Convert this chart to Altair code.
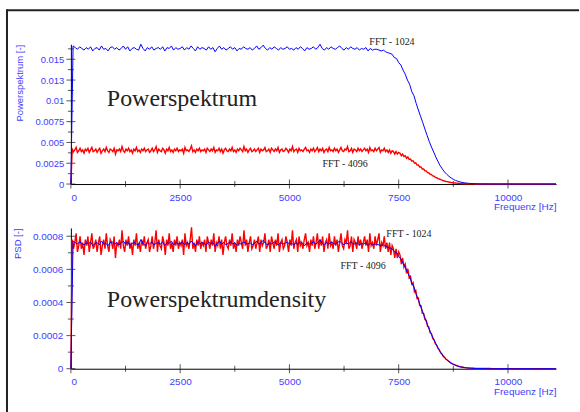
import altair as alt
import pandas as pd

# ---------------- data ----------------
SAMPLE_RATE = 22050          # Hz
N_SHORT = 1024               # FFT length of the blue series
N_LONG = 4096                # FFT length of the red series
STEP_1024 = 50               # Hz between plotted points, FFT-1024
STEP_4096 = 30               # Hz between plotted points, FFT-4096
F_MAX = 11100

# power spectrum, FFT - 1024, in units of 1e-3
power_1024 = [
    0.0,
    16.6, 16.4, 16.2, 16.5, 16.3, 16.1, 16.4, 16.2, 16.5, 16.0,
    16.3, 16.4, 16.1, 16.6, 16.2, 16.3, 16.0, 16.4, 16.5, 16.2,
    16.4, 16.1, 16.3, 16.6, 16.2, 16.5, 16.0, 16.3, 16.4, 16.2,
    16.1, 16.8, 16.3, 16.0, 16.4, 16.2, 16.5, 16.1, 16.3, 16.4,
    16.2, 16.5, 16.0, 16.4, 16.3, 16.6, 16.1, 16.4, 16.2, 16.3,
    16.5, 16.1, 16.4, 16.2, 16.6, 16.3, 16.0, 16.5, 16.2, 16.4,
    16.3, 16.1, 16.5, 16.2, 16.4, 15.9, 16.3, 16.6, 16.2, 16.4,
    16.1, 16.3, 16.5, 16.2, 16.4, 16.0, 16.3, 16.2, 16.5, 16.3,
    16.2, 16.4, 16.1, 16.3, 16.6, 16.2, 16.4, 16.7, 16.3, 16.1,
    16.4, 16.2, 16.5, 16.3, 16.1, 16.4, 16.2, 16.3, 16.5, 16.2,
    16.3, 16.1, 16.4, 16.2, 16.5, 16.3, 16.0, 16.4, 16.2, 16.3,
    16.5, 16.2, 16.4, 16.8, 16.3, 16.1, 16.4, 16.2, 16.5, 16.3,
    16.2, 16.4, 16.6, 16.3, 16.1, 16.4, 16.2, 16.5, 16.3, 16.2,
    16.4, 16.1, 16.3, 16.2, 16.4, 16.0, 16.3, 16.1, 16.2,
    16.2, 16.1, 16.0, 16.1, 15.9, 15.8, 15.7, 15.6, 15.2, 15.1,
    14.6, 14.3, 13.7, 13.2, 12.5, 12.0, 11.1, 10.6, 9.7, 8.9,
    8.15, 7.4, 6.6, 5.85, 5.1, 4.45, 3.85, 3.25, 2.7, 2.2,
    1.8, 1.45, 1.17, 0.93, 0.73, 0.57, 0.44, 0.34, 0.26, 0.2,
    0.15, 0.115, 0.085, 0.065, 0.05,
    0.038, 0.03, 0.024, 0.019, 0.016, 0.013, 0.011, 0.01, 0.009, 0.008,
    0.007, 0.007, 0.006, 0.006, 0.005, 0.005, 0.005, 0.004, 0.004, 0.004,
    0.004, 0.003, 0.003, 0.003, 0.003, 0.003, 0.002, 0.002, 0.002, 0.002,
    0.002, 0.002, 0.002, 0.002, 0.002, 0.001, 0.001, 0.001,
]

# power spectrum, FFT - 4096, in units of 1e-3
power_4096 = [
    0.0,
    4.2, 3.9, 4.1, 4.4, 3.8, 4.0, 4.3, 3.9, 4.1, 3.7, 4.2, 4.0, 4.3, 3.8, 4.1, 4.4, 3.9, 4.0, 4.2, 3.8,
    4.1, 4.3, 3.7, 4.0, 4.2, 3.9, 4.4, 4.0, 3.8, 4.2, 4.1, 3.9, 4.3, 3.6, 4.1, 4.0, 4.2, 3.9, 4.5, 4.0,
    3.8, 4.2, 4.0, 4.3, 3.9, 4.1, 3.7, 4.2, 4.0, 4.4, 3.9, 4.1, 3.8, 4.2, 4.0, 4.3, 3.9, 4.1, 4.2, 3.8,
    4.0, 4.3, 3.9, 4.1, 4.5, 3.8, 4.2, 4.0, 3.9, 4.3, 4.1, 3.7, 4.2, 4.0, 4.4, 3.9, 4.1, 3.8, 4.2, 4.0,
    4.3, 3.9, 4.1, 4.0, 4.2, 3.7, 4.4, 4.0, 4.1, 3.9, 4.2, 4.6, 3.9, 4.1, 3.8, 4.2, 4.0, 4.3, 3.9, 4.1,
    4.0, 4.2, 3.8, 4.3, 4.1, 3.9, 4.2, 4.0, 4.4, 3.8, 4.1, 4.0, 4.3, 3.9, 4.2, 3.7, 4.1, 4.3, 4.0, 3.9,
    4.2, 4.0, 4.4, 3.9, 4.1, 3.8, 4.2, 4.0, 4.3, 4.1, 3.9, 4.5, 4.0, 4.2, 3.8, 4.1, 4.3, 3.9, 4.0, 4.2,
    3.9, 4.1, 4.3, 3.8, 4.2, 4.0, 4.1, 4.4, 3.9, 4.0, 4.2, 3.8, 4.3, 4.1, 3.9, 4.2, 4.0, 4.4, 3.8, 4.1,
    4.2, 3.9, 4.0, 4.3, 4.1, 3.8, 4.2, 4.0, 4.5, 3.9, 4.1, 4.2, 3.8, 4.3, 4.0, 4.1, 3.9, 4.2, 4.4, 4.0,
    4.1, 3.8, 4.2, 4.0, 4.3, 3.9, 4.1, 4.4, 3.9, 4.2, 4.0, 4.3, 3.8, 4.1, 4.2, 3.9, 4.4, 4.0, 4.1, 3.9,
    4.3, 4.0, 4.2, 3.8, 4.1, 4.4, 4.0, 3.9, 4.2, 4.1, 4.5, 3.9, 4.0, 4.3, 3.8, 4.2, 4.1, 3.9, 4.3, 4.0,
    4.2, 3.9, 4.1, 4.3, 4.0, 4.2, 3.8, 4.4, 4.0, 4.1, 3.9, 4.3, 4.0, 4.2, 4.4, 3.8, 4.1, 4.0, 4.3, 3.9,
    4.1, 3.8, 4.1, 3.7, 4.0, 3.9, 3.6, 3.9, 3.6, 3.8,
    3.7, 3.4, 3.6, 3.3, 3.4, 3.1, 3.25, 2.95, 3.0, 2.75,
    2.8, 2.5, 2.55, 2.28, 2.3, 2.05, 2.05, 1.8, 1.8, 1.6,
    1.58, 1.38, 1.35, 1.17, 1.14, 0.98, 0.94, 0.81, 0.76, 0.66,
    0.61, 0.52, 0.48, 0.4, 0.37, 0.31, 0.285, 0.245, 0.215, 0.18,
    0.16, 0.14, 0.125, 0.105, 0.093, 0.077, 0.065, 0.057, 0.049, 0.04,
    0.034, 0.029, 0.025, 0.021, 0.018, 0.016, 0.014, 0.012, 0.011, 0.01,
    0.009, 0.008, 0.008, 0.007, 0.007, 0.006, 0.006, 0.005, 0.005, 0.005,
    0.004, 0.004, 0.004, 0.004, 0.004, 0.004, 0.004, 0.004, 0.004, 0.004,
    0.003, 0.003, 0.003, 0.003, 0.003, 0.003, 0.003, 0.003, 0.003, 0.003,
    0.002, 0.002, 0.002, 0.002, 0.002, 0.002, 0.002, 0.002, 0.002, 0.002,
    0.002, 0.002, 0.002, 0.002, 0.002, 0.002, 0.002, 0.002, 0.002, 0.002,
    0.001, 0.001, 0.001, 0.001, 0.001, 0.001, 0.001, 0.001, 0.001, 0.001,
]

x_ticks_major = [0, 2500, 5000, 7500, 10000]
x_ticks_minor = [1250, 3750, 6250, 8750]
p_ticks_major = [0, 0.0025, 0.005, 0.0075, 0.01, 0.0125, 0.015]
p_ticks_minor = [0.00125, 0.00375, 0.00625, 0.00875, 0.01125, 0.01375, 0.01625]
psd_ticks_major = [0, 0.0002, 0.0004, 0.0006, 0.0008]
psd_ticks_minor = [0.0001, 0.0003, 0.0005, 0.0007]

# ---------------- tables ----------------
df_short = pd.DataFrame({
    "f": [i * STEP_1024 for i in range(len(power_1024))],
    "P": [v * 1e-3 for v in power_1024],
})
df_short["PSD"] = df_short["P"] / (SAMPLE_RATE / N_SHORT)

df_long = pd.DataFrame({
    "f": [i * STEP_4096 for i in range(len(power_4096))],
    "P": [v * 1e-3 for v in power_4096],
})
df_long["PSD"] = df_long["P"] / (SAMPLE_RATE / N_LONG)

# ---------------- styles ----------------
BLUE = "#0000ff"
RED = "#ff0000"
LABEL = "#3d3dff"
SANS = "Liberation Sans"
SERIF = "Liberation Serif"
PLOT_W = 486


def one_row():
    return alt.Data(values=[{"a": 1}])


def note(text, x, y, size):
    return alt.Chart(one_row()).mark_text(
        text=text, align="left", baseline="alphabetic",
        font=SERIF, fontSize=size, color="#222222",
    ).encode(x=alt.value(x), y=alt.value(y))


def panel(ycol, ydomain, ytitle, ymajor, yminor, ylab_size, ylab_pad, height, notes, extra=()):
    xs = alt.Scale(domain=[0, F_MAX], nice=False, zero=False)
    ys = alt.Scale(domain=ydomain, nice=False, zero=False)
    xaxis = alt.Axis(
        values=x_ticks_major, format="d", ticks=False, grid=False,
        domainColor="#000000", domainWidth=1, labelColor=LABEL, labelFont=SANS,
        labelFontSize=10, labelPadding=8, labelOverlap=False,
        title="Frequenz [Hz]", titleAnchor="end", titleColor=LABEL, titleFont=SANS,
        titleFontSize=10, titleFontWeight="normal", titlePadding=0,
    )
    yaxis = alt.Axis(
        values=ymajor, format="~g", ticks=False, grid=False,
        domainColor="#000000", domainWidth=1, labelColor=LABEL, labelFont=SANS,
        labelFontSize=ylab_size, labelPadding=ylab_pad, labelOverlap=False,
        title=ytitle, titleAnchor="end", titleColor=LABEL, titleFont=SANS,
        titleFontSize=9.5, titleFontWeight="normal", titlePadding=10,
    )
    X = alt.X("f:Q", scale=xs, axis=xaxis)
    Y = alt.Y(f"{ycol}:Q", scale=ys, axis=yaxis)

    def xt(vals, size):
        return alt.Chart(pd.DataFrame({"f": vals})).mark_tick(
            orient="vertical", size=size, thickness=1, color="#111111"
        ).encode(x=X, y=alt.value(height))

    def yt(vals, size):
        return alt.Chart(pd.DataFrame({ycol: vals})).mark_tick(
            orient="horizontal", size=size, thickness=1, color="#111111"
        ).encode(x=alt.value(0), y=Y)

    red = alt.Chart(df_long).mark_line(color=RED, strokeWidth=1.4).encode(x=X, y=Y)
    blue = alt.Chart(df_short).mark_line(color=BLUE, strokeWidth=1).encode(x=X, y=Y)

    layers = list(extra) + [
        xt(x_ticks_major, 9), xt(x_ticks_minor, 6),
        yt(ymajor, 9), yt(yminor, 6),
        red, blue,
    ] + notes
    return alt.layer(*layers).properties(width=PLOT_W, height=height)


frame_top = alt.Chart(one_row()).mark_rule(color="#222222", strokeWidth=2).encode(
    x=alt.value(-64), x2=alt.value(509), y=alt.value(-34)
)
frame_left = alt.Chart(one_row()).mark_rule(color="#222222", strokeWidth=2).encode(
    x=alt.value(-64), y=alt.value(-35), y2=alt.value(369)
)

top = panel(
    "P", [0, 0.0168], "Powerspektrum [-]", p_ticks_major, p_ticks_minor, 9.5, 7, 140,
    [
        note("Powerspektrum", 36, 62, 24),
        note("FFT - 1024", 299, 0.5, 10),
        note("FFT - 4096", 252, 123, 10),
    ],
    extra=(frame_top, frame_left),
)

bottom = panel(
    "PSD", [0, 0.00085], "PSD [-]", psd_ticks_major, psd_ticks_minor, 10, 8, 141,
    [
        note("Powerspektrumdensity", 36, 79, 24),
        note("FFT - 1024", 316, 9, 10),
        note("FFT - 4096", 270, 41, 10),
    ],
)

chart = alt.vconcat(top, bottom, spacing=44, bounds="flush").properties(
    padding={"left": 6, "top": 8, "right": 0, "bottom": 0},
    autosize=alt.AutoSizeParams(type="pad"),
    background="white",
).configure_view(strokeWidth=0)

chart.save("out.html", embed_options={"renderer": "svg", "actions": False})
